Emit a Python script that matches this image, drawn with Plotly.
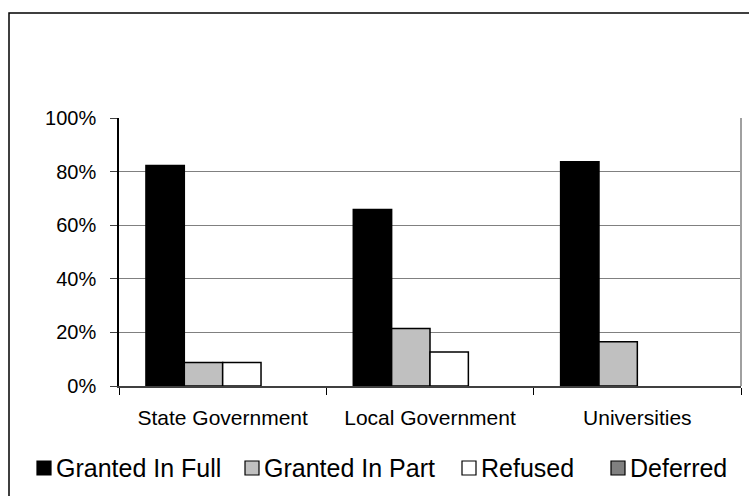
import plotly.graph_objects as go

categories = ["State Government", "Local Government", "Universities"]
series_names = ["Granted In Full", "Granted In Part", "Refused", "Deferred"]
granted_full = [0.823, 0.659, 0.837]
granted_part = [0.088, 0.215, 0.165]
refused = [0.088, 0.127, 0.0]
deferred = [0.0, 0.0, 0.0]
y_ticks = [0, 0.2, 0.4, 0.6, 0.8, 1.0]
y_tick_labels = ["0%", "20%", "40%", "60%", "80%", "100%"]

values = [granted_full, granted_part, refused, deferred]
fills = ["#000000", "#C0C0C0", "#FFFFFF", "#808080"]

W, H = 749, 496
L, R, T, B = 119, 8, 118, 110
pw, ph = W - L - R, H - T - B

fig = go.Figure()
for name, vals, col in zip(series_names, values, fills):
    fig.add_trace(go.Bar(
        x=categories, y=vals, name=name, showlegend=False, hoverinfo="skip",
        marker=dict(color=col,
                    line=dict(color="#000000", width=[1.5 if v > 0 else 0 for v in vals])),
    ))

FONT = "Liberation Sans, Arial, sans-serif"
fig.update_layout(
    width=W, height=H,
    margin=dict(l=L, r=R, t=T, b=B, pad=0),
    paper_bgcolor="white", plot_bgcolor="white",
    barmode="group", bargap=0.26, bargroupgap=0,
    font=dict(family=FONT, color="#000000"),
    showlegend=False,
    xaxis=dict(
        showline=True, linecolor="#404040", linewidth=1.5,
        ticks="outside", ticklen=7, tickcolor="#000000", tickson="boundaries",
        tickfont=dict(size=21), showgrid=False, automargin=False,
        ticklabelstandoff=12,
    ),
    yaxis=dict(
        range=[0, 1], tickvals=y_ticks, ticktext=y_tick_labels,
        showline=True, linecolor="#000000", linewidth=1.5,
        ticks="outside", ticklen=7, tickcolor="#404040",
        showgrid=True, gridcolor="#808080", gridwidth=1.2,
        tickfont=dict(size=20), zeroline=False, automargin=False,
        ticklabelstandoff=10,
    ),
)

# right border of plot area in gray
fig.add_shape(type="line", xref="paper", yref="paper", x0=1, x1=1, y0=0, y1=1,
              line=dict(color="#A0A0A0", width=2))
# outer chart border (cropped at right/bottom)
fig.add_shape(type="rect", xref="paper", yref="paper",
              x0=(9 - L) / pw, x1=1.2, y0=-0.6, y1=1 + (T - 13) / ph,
              line=dict(color="#000000", width=1.5), layer="below")

# legend row drawn with squares and text
leg_x = [37, 245, 462, 611]
leg_yc = 468
sq = 14
for nm, col, lx in zip(series_names, fills, leg_x):
    fig.add_shape(type="rect", xref="paper", yref="paper",
                  x0=(lx - L) / pw, x1=(lx + sq - L) / pw,
                  y0=(H - B - (leg_yc + sq / 2)) / ph, y1=(H - B - (leg_yc - sq / 2)) / ph,
                  fillcolor=col, line=dict(color="#000000", width=1.2))
    fig.add_annotation(xref="paper", yref="paper",
                       x=(lx + sq + 3 - L) / pw, y=(H - B - leg_yc) / ph,
                       xanchor="left", yanchor="middle", showarrow=False,
                       text=nm, font=dict(size=25, family=FONT, color="#000000"))

fig.write_html("out.html", config={"displayModeBar": False},
               post_script="document.body.style.margin='0';document.body.style.overflow='hidden';")
